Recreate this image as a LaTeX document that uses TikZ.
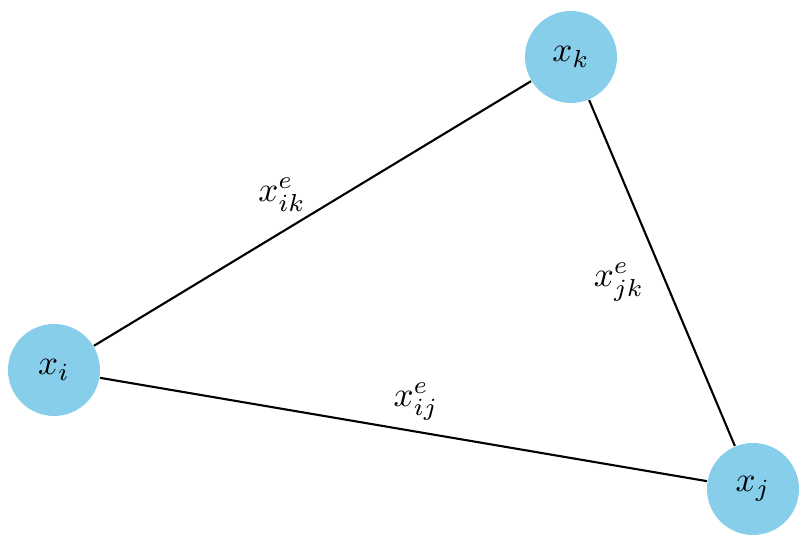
\documentclass[tikz,border=0pt]{standalone}
\usepackage{amsmath}
\usepackage{tikz}
\definecolor{skyblue}{HTML}{87CEEB}

\begin{document}
\begin{tikzpicture}[vertex/.style={circle,fill=skyblue,minimum size=0.92cm,inner sep=0pt},
                    link/.style={black,line width=0.6pt}]
                 \useasboundingbox (0,0) rectangle (8.04,5.37);
                 \node[vertex](xi)at(0.54,1.67){$x_i$};
                 \node[vertex](xk)at(5.71,4.80){$x_k$};
                 \node[vertex](xj)at(7.53,0.48){$x_j$};
                 \draw[link](xi)--(xk);
                 \draw[link](xk)--(xj);
                 \draw[link](xi)--(xj);
                 \node(lik)at(2.82,3.42){$x^e_{ik}$};
                 \node(ljk)at(6.19,2.55){$x^e_{jk}$};
                 \node(lij)at(4.16,1.35){$x^e_{ij}$};
               \end{tikzpicture}
\end{document}
